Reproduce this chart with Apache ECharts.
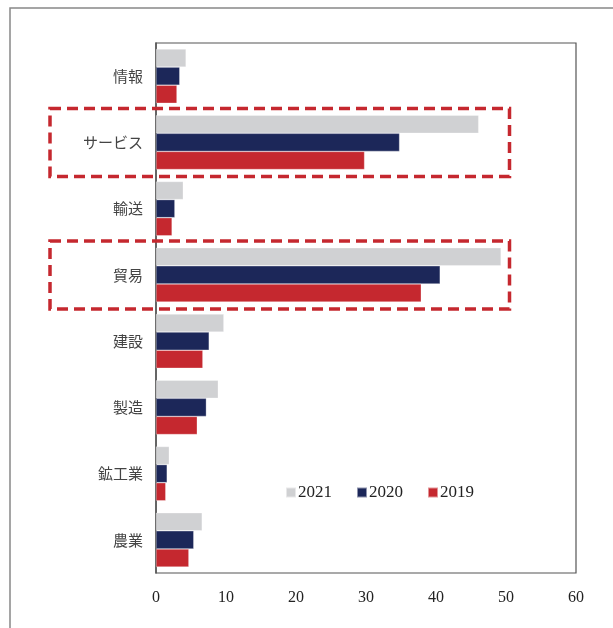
<!DOCTYPE html>
<html>
<head>
<meta charset="utf-8">
<script src="https://cdn.jsdelivr.net/npm/echarts@6/dist/echarts.min.js"></script>
<style>
html,body{margin:0;padding:0;background:#fff;}
#chart{width:613px;height:628px;}
</style>
</head>
<body>
<div id="chart"></div>
<script>
const categories = ['情報', 'サービス', '輸送', '貿易', '建設', '製造', '鉱工業', '農業'];
const seriesNames = ['2021', '2020', '2019'];
const values2021 = [4.3, 46.1, 3.9, 49.3, 9.7, 8.9, 1.9, 6.6];
const values2020 = [3.4, 34.8, 2.7, 40.6, 7.6, 7.2, 1.6, 5.4];
const values2019 = [3.0, 29.8, 2.3, 37.9, 6.7, 5.9, 1.4, 4.7];
const xTicks = [0, 10, 20, 30, 40, 50, 60];
const highlighted = ['サービス', '貿易'];

const colors = ['#d0d1d3', '#1c2759', '#c5282f'];
const seriesValues = [values2021, values2020, values2019];

const chart = echarts.init(document.getElementById('chart'), null, {renderer: 'canvas'});
const option = {
  animation: false,
  backgroundColor: '#fff',
  grid: {left: 156, right: 37, top: 43, bottom: 55, show: true, borderColor: '#555', borderWidth: 1.2, containLabel: false},
  legend: {
    data: seriesNames,
    left: 280, top: 479,
    itemWidth: 10, itemHeight: 10, itemGap: 24,
    icon: 'rect',
    textStyle: {fontFamily: 'Liberation Serif', fontSize: 17, color: '#222', padding: [2,0,0,-3]}
  },
  xAxis: {
    type: 'value', min: xTicks[0], max: xTicks[xTicks.length-1], interval: 10,
    axisLine: {show: false}, axisTick: {show: false}, splitLine: {show: false},
    axisLabel: {fontFamily: 'Liberation Serif', fontSize: 16, color: '#222', margin: 17}
  },
  yAxis: {
    type: 'category', data: categories, inverse: true,
    axisLine: {show: true, lineStyle: {color: '#555', width: 1.5}},
    axisTick: {show: false},
    axisLabel: {fontFamily: 'Noto Sans CJK JP', fontSize: 15, color: '#444', margin: 13}
  },
  series: seriesNames.map((n, i) => ({
    name: n, type: 'bar', data: seriesValues[i],
    itemStyle: {color: colors[i], borderColor: 'rgba(255,255,255,0.5)', borderWidth: 0.6},
    barGap: '0%', barCategoryGap: '18%'
  }))
};
chart.setOption(option);

const graphics = [{
  type: 'rect', shape: {x: 10, y: 8, width: 800, height: 800},
  style: {fill: 'none', stroke: '#888', lineWidth: 1.5}, silent: true
}];
highlighted.forEach(c => {
  const cy = chart.convertToPixel({yAxisIndex: 0}, c);
  const x0 = chart.convertToPixel({xAxisIndex: 0}, 0) - 106;
  const x1 = chart.convertToPixel({xAxisIndex: 0}, 50.5);
  graphics.push({
    type: 'rect', shape: {x: x0, y: cy - 34, width: x1 - x0, height: 68},
    style: {fill: 'none', stroke: '#c5282f', lineWidth: 3.5, lineDash: [11, 6]}, z: 100, silent: true
  });
});
chart.setOption({graphic: graphics});
</script>
</body>
</html>
